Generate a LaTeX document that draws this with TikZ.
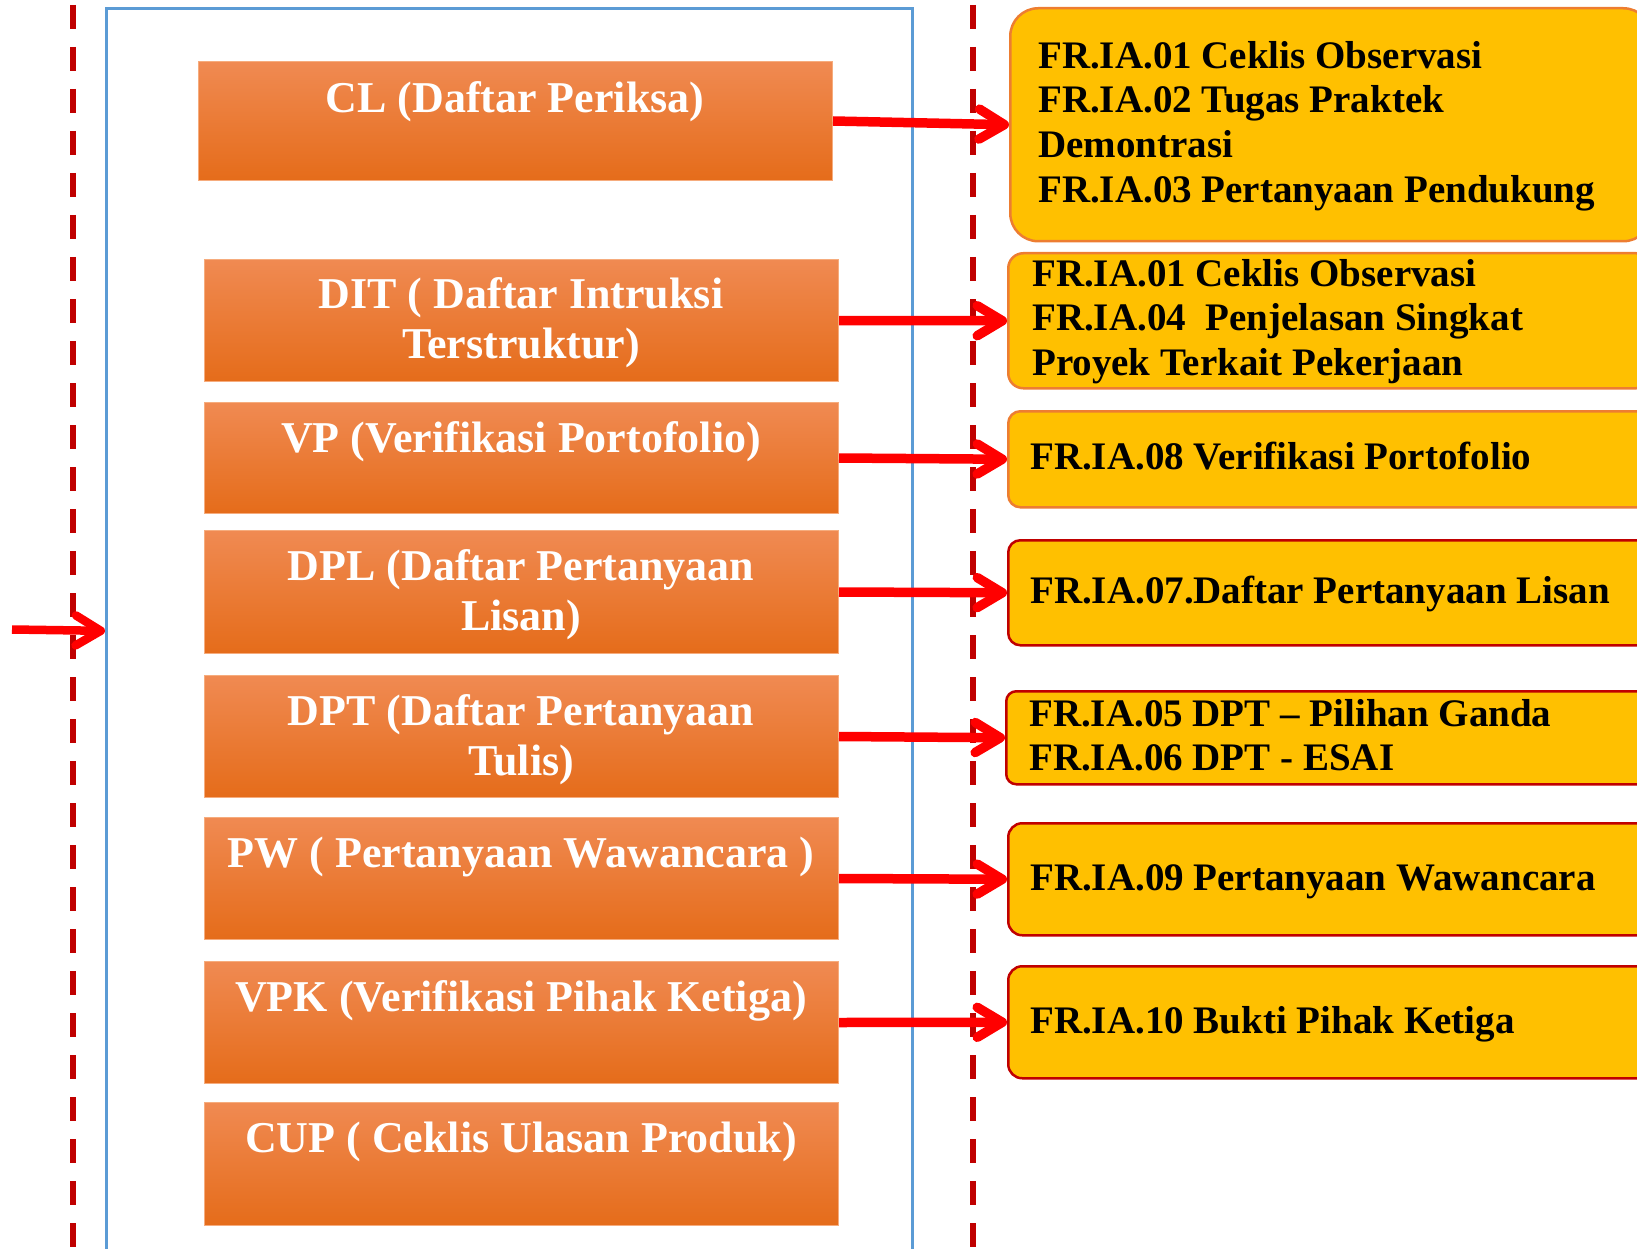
\documentclass[tikz,border=0pt]{standalone}
\usepackage{fontspec}
\setmainfont{Liberation Serif}
\usetikzlibrary{arrows.meta}

\definecolor{guidered}{RGB}{192,0,0}
\definecolor{frameblue}{RGB}{91,155,213}
\definecolor{flowred}{RGB}{255,0,0}
\definecolor{gold}{RGB}{255,192,0}
\definecolor{edgeorange}{RGB}{237,125,49}
\definecolor{edgered}{RGB}{192,0,0}
\definecolor{otop}{RGB}{240,138,82}
\definecolor{omid}{RGB}{242,128,46}
\definecolor{obot}{RGB}{229,108,26}
\definecolor{oedge}{RGB}{246,172,125}

\begin{document}
\begin{tikzpicture}[x=1pt,y=-1pt,
  guide/.style={draw=guidered, line width=6.5pt, dash pattern=on 24pt off 18pt},
  frame/.style={draw=frameblue, line width=2.7pt, inner sep=0pt, anchor=north west},
  obox/.style={draw=oedge, line width=1pt, top color=otop, middle color=omid,
    bottom color=obot, inner sep=0pt, anchor=north west, minimum width=634pt},
  otext/.style={anchor=north, inner sep=0pt, text=white, align=center,
    font=\fontsize{44}{50}\selectfont\bfseries},
  ybox/.style={fill=gold, line width=2.5pt, inner sep=0pt, anchor=north west,
    minimum width=643pt},
  ytext/.style={anchor=north west, inner sep=0pt, text=black, align=left,
    font=\fontsize{39}{44.7}\selectfont\bfseries},
  flow/.style={draw=flowred, line width=9.5pt,
    -{Straight Barb[length=25pt, width=30pt, round]}}
]
\useasboundingbox (0,0) rectangle (1637,1249);

% dashed guide lines
\draw[guide] (73,5) -- (73,1249);
\draw[guide] (973,5) -- (973,1249);

% blue frame round the method column
\node[frame, minimum width=806pt, minimum height=1245pt] (frame) at (105,7) {};

% method boxes
\node[obox, minimum height=119pt] (cl)  at (198,61) {};
\node[obox, minimum height=122pt] (dit) at (204,259) {};
\node[obox, minimum height=111pt] (vp)  at (204,402) {};
\node[obox, minimum height=123pt] (dpl) at (204,530) {};
\node[obox, minimum height=122pt] (dpt) at (204,675) {};
\node[obox, minimum height=122pt] (pw)  at (204,817) {};
\node[obox, minimum height=122pt] (vpk) at (204,961) {};
\node[obox, minimum height=123pt] (cup) at (204,1102) {};

\node[otext] (cl-t)  at (515,77)   {\strut CL (Daftar Periksa)};
\node[otext] (dit-t) at (521,273)  {\strut DIT ( Daftar Intruksi\\Terstruktur)};
\node[otext] (vp-t)  at (521,417)  {\strut VP (Verifikasi Portofolio)};
\node[otext] (dpl-t) at (521,545)  {\strut DPL (Daftar Pertanyaan\\Lisan)};
\node[otext] (dpt-t) at (521,690)  {\strut DPT (Daftar Pertanyaan\\Tulis)};
\node[otext] (pw-t)  at (521,832)  {\strut PW ( Pertanyaan Wawancara )};
\node[otext] (vpk-t) at (521,976)  {\strut VPK (Verifikasi Pihak Ketiga)};
\node[otext] (cup-t) at (521,1117) {\strut CUP ( Ceklis Ulasan Produk)};

% form boxes
\node[ybox, draw=edgeorange, rounded corners=28pt, minimum width=641pt, minimum height=233pt] (f1) at (1009,7) {};
\node[ybox, draw=edgeorange, rounded corners=15pt, minimum height=135pt] (f2) at (1007,252) {};
\node[ybox, draw=edgeorange, rounded corners=12pt, minimum height=96pt]  (f3) at (1007,410) {};
\node[ybox, draw=edgered, rounded corners=12pt, minimum height=105pt]    (f4) at (1007,539) {};
\node[ybox, draw=edgered, rounded corners=10pt, minimum width=645pt, minimum height=93pt] (f5) at (1005,690) {};
\node[ybox, draw=edgered, rounded corners=14pt, minimum height=112pt]    (f6) at (1007,822) {};
\node[ybox, draw=edgered, rounded corners=14pt, minimum height=112pt]    (f7) at (1007,965) {};

\node[ytext] (f1-t) at (1038,36.7) {\strut FR.IA.01 Ceklis Observasi\\FR.IA.02 Tugas Praktek\\Demontrasi\\FR.IA.03 Pertanyaan Pendukung};
\node[ytext] (f2-t) at (1032,254.7) {\strut FR.IA.01 Ceklis Observasi\\FR.IA.04~ Penjelasan Singkat\\Proyek Terkait Pekerjaan};
\node[ytext] (f3-t) at (1030,437.7) {\strut FR.IA.08 Verifikasi Portofolio};
\node[ytext] (f4-t) at (1030,572.2) {\strut FR.IA.07.Daftar Pertanyaan Lisan};
\node[ytext] (f5-t) at (1029,694.7) {\strut FR.IA.05 DPT – Pilihan Ganda\\FR.IA.06 DPT - ESAI};
\node[ytext] (f6-t) at (1030,858.7) {\strut FR.IA.09 Pertanyaan Wawancara};
\node[ytext] (f7-t) at (1030,1001.7) {\strut FR.IA.10 Bukti Pihak Ketiga};

% connectors
\coordinate (entry) at (12,629.5);
\draw[flow, line width=8.5pt] (entry) -- (frame.west);
\draw[flow] (cl.east)  -- (f1.west);
\draw[flow] (dit.east) -- (f2.west);
\draw[flow] (vp.east)  -- (f3.west);
\draw[flow] (dpl.east) -- (f4.west);
\draw[flow] (dpt.east) -- (f5.west);
\draw[flow] (pw.east)  -- (f6.west);
\draw[flow] (vpk.east) -- (f7.west);
\end{tikzpicture}
\end{document}
